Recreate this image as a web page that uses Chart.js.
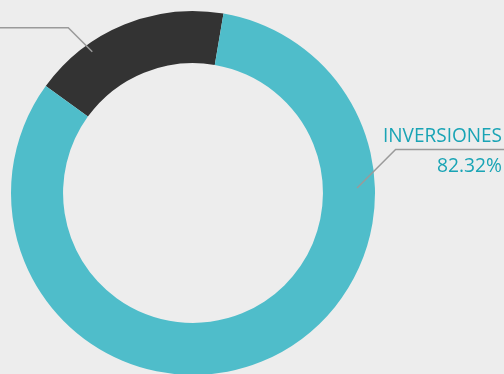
<!DOCTYPE html>
<html>
<head>
<meta charset="utf-8">
<script src="https://cdn.jsdelivr.net/npm/chart.js@4/dist/chart.umd.min.js"></script>
<style>
  html, body { margin: 0; padding: 0; background: #ededed; overflow: hidden; width: 504px; height: 374px; }
  canvas { display: block; }
</style>
</head>
<body>
<canvas id="c" width="504" height="400"></canvas>
<script>
const categories = ['OTROS', 'INVERSIONES'];
const values = [17.68, 82.32];
const colors = ['#333333', '#4fbdca'];
const labelTexts = ['', 'INVERSIONES'];
const percentLabels = ['', '82.32%'];

const leaderPlugin = {
  id: 'leaders',
  afterDraw(chart) {
    const ctx = chart.ctx;
    const arc = chart.getDatasetMeta(0).data[1];
    const cx = arc.x, cy = arc.y, R = arc.outerRadius;
    ctx.save();
    ctx.strokeStyle = '#9a9a9a';
    ctx.lineWidth = 1.5;
    // right leader (INVERSIONES)
    let a = -1.75 * Math.PI / 180, r = R * 0.902;
    let x0 = cx + r * Math.cos(a), y0 = cy + r * Math.sin(a);
    ctx.beginPath();
    ctx.moveTo(x0, y0);
    ctx.lineTo(x0 + 38.5, y0 - 38.5);
    ctx.lineTo(chart.width + 5, y0 - 38.5);
    ctx.stroke();
    // left leader (other segment)
    a = -125.5 * Math.PI / 180; r = R * 0.953;
    x0 = cx + r * Math.cos(a); y0 = cy + r * Math.sin(a);
    ctx.beginPath();
    ctx.moveTo(x0, y0);
    ctx.lineTo(x0 - 24, y0 - 24);
    ctx.lineTo(-5, y0 - 24);
    ctx.stroke();
    // texts
    ctx.fillStyle = '#19a4b5';
    ctx.textAlign = 'right';
    ctx.textBaseline = 'alphabetic';
    ctx.font = '400 20px "Open Sans"';
    ctx.fillText(labelTexts[1], 502, 142, 119);
    ctx.fillText(percentLabels[1], 502, 172, 65);
    ctx.restore();
  }
};

new Chart(document.getElementById('c'), {
  type: 'doughnut',
  data: {
    labels: categories,
    datasets: [{
      data: values,
      backgroundColor: colors,
      borderWidth: 0,
      hoverOffset: 0
    }]
  },
  options: {
    responsive: false,
    animation: false,
    cutout: '71.4%',
    rotation: -54,
    layout: { padding: { left: 11, top: 11, right: 129, bottom: 25 } },
    plugins: { legend: { display: false }, tooltip: { enabled: false } }
  },
  plugins: [leaderPlugin]
});
</script>
</body>
</html>
